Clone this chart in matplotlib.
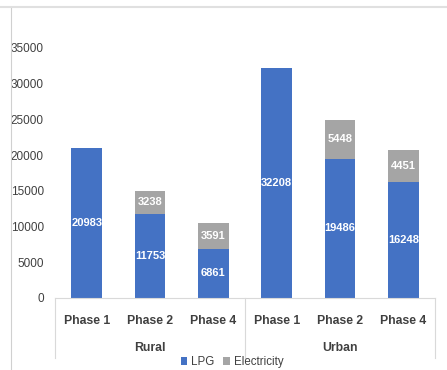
import matplotlib
matplotlib.use("Agg")
import matplotlib.pyplot as plt
from matplotlib.lines import Line2D

plt.rcParams["font.family"] = ["Liberation Sans", "DejaVu Sans"]

groups = ["Rural", "Urban"]
phases = ["Phase 1", "Phase 2", "Phase 4", "Phase 1", "Phase 2", "Phase 4"]
lpg = [20983, 11753, 6861, 32208, 19486, 16248]
electricity = [0, 3238, 3591, 0, 5448, 4451]

BLUE = "#4472C4"
GRAY = "#A5A5A5"
LINE = "#D9D9D9"
TEXT = "#404040"

fig = plt.figure(figsize=(4.47, 3.70), dpi=100)
ax = fig.add_axes([55 / 447, (370 - 298) / 370, 380 / 447, 250 / 370])

x = list(range(len(phases)))
ax.bar(x, lpg, width=0.48, color=BLUE, label="LPG")
ax.bar(x, electricity, width=0.48, bottom=lpg, color=GRAY, label="Electricity")

# value labels inside each segment
for i in x:
    ax.text(i, lpg[i] / 2, str(lpg[i]), ha="center", va="center",
            color="white", fontsize=8, fontweight="bold")
    if electricity[i]:
        ax.text(i, lpg[i] + electricity[i] / 2, str(electricity[i]),
                ha="center", va="center", color="white", fontsize=8,
                fontweight="bold")

ax.set_xlim(-0.5, len(phases) - 0.5)
ax.set_ylim(0, 35000)
ax.set_yticks(range(0, 35001, 5000))
ax.tick_params(axis="y", length=0, pad=8, labelsize=8.5, labelcolor=TEXT)
ax.set_xticks([])
for side in ["top", "right", "left"]:
    ax.spines[side].set_visible(False)
ax.spines["bottom"].set_color(LINE)

# two-level category axis
trans = ax.get_xaxis_transform()
for i, p in enumerate(phases):
    ax.text(i, -0.09, p, transform=trans, ha="center", va="center",
            fontsize=8.8, fontweight="bold", color=TEXT)
for g, name in enumerate(groups):
    ax.text(g * 3 + 1, -0.2, name, transform=trans, ha="center", va="center",
            fontsize=8.8, fontweight="bold", color=TEXT)
for xb in [-0.5, 2.5, 5.5]:
    ax.plot([xb, xb], [0, -0.24], transform=trans, color=LINE, lw=0.8,
            clip_on=False)

ax.legend(loc="center", bbox_to_anchor=(232 / 447, 1 - 362 / 370),
          bbox_transform=fig.transFigure, ncol=2, frameon=False,
          fontsize=8.3, handlelength=0.6, handleheight=0.6,
          handletextpad=0.3, columnspacing=0.8, labelcolor=TEXT)

# outer frame lines
fig.add_artist(Line2D([0, 1], [1 - 7 / 370, 1 - 7 / 370], color="#E0E0E0", lw=1.5))
fig.add_artist(Line2D([11 / 447, 11 / 447], [0, 1 - 8 / 370], color="#D0D0D0", lw=0.8))

fig.savefig("out.png", dpi=100)
